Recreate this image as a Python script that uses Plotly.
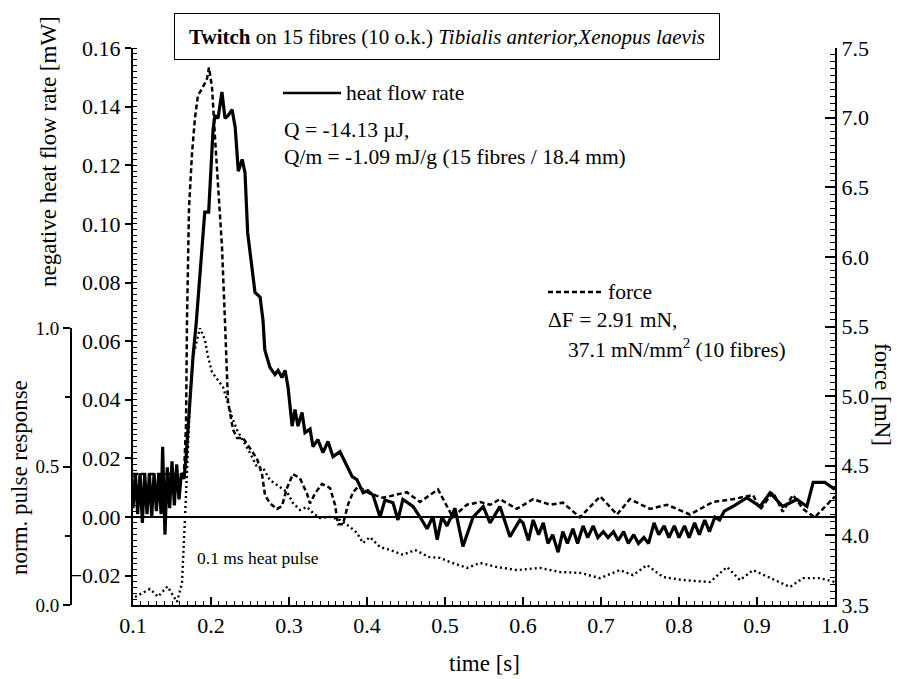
import plotly.graph_objects as go

# ---------------- data ----------------
heat_t = [0.100, 0.103, 0.106, 0.109, 0.112, 0.115, 0.118, 0.121, 0.124, 0.127, 0.130, 0.133, 0.136,
          0.138, 0.141, 0.144, 0.147, 0.150, 0.153, 0.156, 0.159, 0.162, 0.1654,
          0.168, 0.1705, 0.173, 0.177, 0.181, 0.186, 0.190, 0.192, 0.197, 0.200, 0.2026, 0.205, 0.209,
          0.214, 0.218, 0.222, 0.227, 0.231, 0.235, 0.240, 0.2436, 0.247, 0.2526, 0.2564, 0.263, 0.2667,
          0.269, 0.2756, 0.282, 0.286, 0.291, 0.295, 0.2987, 0.304, 0.3077, 0.3115, 0.3167, 0.3205,
          0.327, 0.3308, 0.337, 0.3436, 0.350, 0.3564, 0.3654, 0.3744, 0.381, 0.387, 0.395, 0.401,
          0.4077, 0.4167, 0.423, 0.4333, 0.4397, 0.446, 0.459, 0.468, 0.477, 0.4846, 0.490, 0.496,
          0.5026, 0.5128, 0.523, 0.536, 0.549, 0.5577, 0.5705, 0.5833, 0.596,
          0.600, 0.607, 0.613, 0.620, 0.626, 0.632, 0.638, 0.645, 0.651, 0.657, 0.664, 0.670, 0.677,
          0.683, 0.690, 0.696, 0.703, 0.709, 0.716, 0.722, 0.729, 0.735, 0.742, 0.748, 0.755, 0.761,
          0.768, 0.774, 0.781, 0.787, 0.794, 0.800, 0.807, 0.813, 0.820, 0.826, 0.833, 0.839, 0.846,
          0.852, 0.858, 0.869, 0.887, 0.904, 0.9167, 0.933, 0.951, 0.964, 0.972, 0.987, 1.000]
heat_q = [0.003, 0.015, 0.001, 0.015, -0.002, 0.015, 0.001, 0.015, 0.000, 0.015, 0.002, 0.015, 0.001,
          0.024, -0.006, 0.017, 0.003, 0.019, 0.004, 0.018, 0.006, 0.015, 0.013,
          0.020, 0.030, 0.040, 0.055, 0.066, 0.084, 0.099, 0.104, 0.104, 0.118, 0.132, 0.137, 0.136,
          0.145, 0.136, 0.137, 0.139, 0.133, 0.118, 0.122, 0.1175, 0.097, 0.085, 0.0766, 0.075, 0.067,
          0.057, 0.051, 0.0486, 0.050, 0.0476, 0.050, 0.0445, 0.031, 0.0367, 0.031, 0.0357, 0.0288,
          0.030, 0.024, 0.0264, 0.022, 0.0258, 0.0206, 0.0223, 0.0172, 0.0138, 0.0128, 0.0083, 0.009,
          0.0075, 0.000, 0.0058, 0.0049, -0.001, 0.006, 0.0036, 0.000, -0.004, 0.0002, -0.0077, 0.000,
          -0.003, 0.003, -0.010, 0.000, 0.0036, -0.002, 0.0036, -0.0067, -0.001,
          -0.002, -0.008, -0.001, -0.006, -0.002, -0.009, -0.006, -0.012, -0.005, -0.009, -0.004, -0.009, -0.003,
          -0.007, -0.003, -0.007, -0.005, -0.007, -0.005, -0.008, -0.005, -0.009, -0.006, -0.009, -0.007, -0.009,
          -0.002, -0.006, -0.003, -0.007, -0.003, -0.007, -0.003, -0.007, -0.002, -0.006, -0.001, -0.005, 0.000,
          -0.001, 0.002, 0.0036, 0.0066, 0.0036, 0.0083, 0.0036, 0.006, 0.0036, 0.0118, 0.0118, 0.0094]

force_t = [0.100, 0.1654, 0.168, 0.1692, 0.1718, 0.1756, 0.1795, 0.1833, 0.1897, 0.1949, 0.1974, 0.2013,
           0.2051, 0.2090, 0.2141, 0.2179, 0.2218, 0.2282, 0.2333, 0.2410, 0.2500, 0.2590, 0.2654, 0.2692,
           0.2756, 0.2846, 0.2910, 0.2974, 0.3051, 0.3141, 0.3231, 0.3269, 0.3333, 0.3423, 0.3526, 0.3590,
           0.3628, 0.3692, 0.3756, 0.3821, 0.3885, 0.4038, 0.4205, 0.451, 0.468, 0.491, 0.510, 0.528, 0.545,
           0.558, 0.5705, 0.592, 0.613, 0.635, 0.651, 0.673, 0.699, 0.7205, 0.737, 0.763, 0.7846, 0.814,
           0.8436, 0.869, 0.895, 0.904, 0.9205, 0.933, 0.946, 0.959, 0.974, 0.9936, 1.000]
force_f = [4.44, 4.44, 4.80, 5.54, 6.35, 6.74, 7.00, 7.16, 7.22, 7.28, 7.36, 7.22,
           6.86, 6.50, 6.07, 5.54, 4.96, 4.76, 4.70, 4.70, 4.62, 4.55, 4.44, 4.29,
           4.23, 4.19, 4.21, 4.34, 4.44, 4.41, 4.30, 4.23, 4.30, 4.37, 4.34, 4.22,
           4.08, 4.08, 4.22, 4.31, 4.35, 4.30, 4.27, 4.31, 4.24, 4.33, 4.13, 4.22, 4.24,
           4.22, 4.26, 4.19, 4.26, 4.22, 4.235, 4.13, 4.28, 4.15, 4.26, 4.19, 4.22, 4.15,
           4.24, 4.26, 4.29, 4.185, 4.31, 4.17, 4.29, 4.19, 4.13, 4.24, 4.28]

pulse_t = [0.1026, 0.1218, 0.132, 0.1442, 0.1564, 0.1628, 0.1667, 0.1692, 0.1731, 0.1769, 0.1859, 0.1923,
           0.1962, 0.2013, 0.209, 0.2154, 0.2218, 0.2269, 0.2333, 0.241, 0.250, 0.259, 0.2667, 0.2756,
           0.2846, 0.2974, 0.3051, 0.3141, 0.3231, 0.3308, 0.3397, 0.3526, 0.3654, 0.3782, 0.3872, 0.3949,
           0.4038, 0.4167, 0.4295, 0.4462, 0.4615, 0.4795, 0.4936, 0.5064, 0.5282, 0.5449, 0.5667, 0.5923,
           0.6218, 0.6474, 0.6731, 0.6987, 0.7244, 0.741, 0.759, 0.7795, 0.8051, 0.8397, 0.8615, 0.8782,
           0.8949, 0.9167, 0.9423, 0.959, 0.9808, 1.000]
pulse_r = [0.029, 0.058, 0.030, 0.067, 0.011, 0.079, 0.318, 0.498, 0.740, 0.895, 1.000, 0.957,
           0.895, 0.841, 0.812, 0.787, 0.729, 0.679, 0.632, 0.596, 0.549, 0.498, 0.495, 0.451,
           0.433, 0.408, 0.368, 0.343, 0.354, 0.332, 0.314, 0.318, 0.307, 0.282, 0.260, 0.224,
           0.245, 0.209, 0.199, 0.181, 0.199, 0.173, 0.170, 0.155, 0.134, 0.152, 0.137, 0.126,
           0.134, 0.119, 0.116, 0.097, 0.126, 0.108, 0.144, 0.101, 0.090, 0.083, 0.137, 0.090,
           0.126, 0.097, 0.065, 0.097, 0.097, 0.083]

# ---------------- layout helpers (pixel -> paper) ----------------
W, H = 902, 679
ML, MR, MT, MB = 60, 67, 48, 74
PW = W - ML - MR
PH = H - MT - MB


def px(x):
    return (x - ML) / PW


def py(y):
    return (H - MB - y) / PH


FONT = "Liberation Serif"
TICK = 22
LAB = 21.5
AX = 23

fig = go.Figure()
fig.add_trace(go.Scatter(x=heat_t, y=heat_q, mode="lines", name="heat flow rate",
                         line=dict(color="black", width=3.2), xaxis="x", yaxis="y"))
fig.add_trace(go.Scatter(x=force_t, y=force_f, mode="lines", name="force",
                         line=dict(color="black", width=2.5, dash="5px,3px"), xaxis="x", yaxis="y2"))
fig.add_trace(go.Scatter(x=pulse_t, y=pulse_r, mode="lines", name="pulse",
                         line=dict(color="black", width=2.4, dash="2px,3px"), xaxis="x", yaxis="y3"))

tickfont = dict(family=FONT, size=TICK, color="black")

fig.update_layout(
    width=W, height=H,
    margin=dict(l=ML, r=MR, t=MT, b=MB),
    paper_bgcolor="white", plot_bgcolor="rgba(0,0,0,0)",
    showlegend=False,
    font=dict(family=FONT, size=LAB, color="black"),
    xaxis=dict(domain=[px(133), 1], range=[0.1, 1.0], dtick=0.1, tick0=0.1, tickformat=".1f",
               showline=True, linecolor="black", linewidth=2, showgrid=False, zeroline=False,
               ticks="inside", ticklen=8, tickwidth=1.5, tickcolor="black",
               minor=dict(ticks="inside", dtick=0.01, ticklen=4, tickwidth=1, tickcolor="black"),
               tickfont=tickfont, anchor="y"),
    yaxis=dict(range=[-0.03, 0.16], dtick=0.02, tick0=0, tickformat=".2f",
               showline=True, linecolor="black", linewidth=2, showgrid=False,
               zeroline=True, zerolinecolor="black", zerolinewidth=1.5,
               ticks="outside", ticklen=6, tickwidth=1.5, tickcolor="black",
               minor=dict(ticks="inside", dtick=0.002, ticklen=4, tickwidth=1, tickcolor="black"),
               tickfont=tickfont, anchor="x"),
    yaxis2=dict(range=[3.5, 7.5], dtick=0.5, tick0=3.5, tickformat=".1f", overlaying="y", side="right",
                showline=True, linecolor="black", linewidth=2, showgrid=False, zeroline=False,
                ticks="inside", ticklen=10, tickwidth=1.5, tickcolor="black",
                minor=dict(ticks="inside", dtick=0.05, ticklen=5, tickwidth=1, tickcolor="black"),
                tickfont=tickfont, anchor="x"),
    yaxis3=dict(domain=[0, py(328)], range=[0, 1], tickvals=[0, 0.5, 1.0], ticktext=["0.0", "0.5", "1.0"],
                anchor="free", position=px(71), side="left",
                showline=True, linecolor="black", linewidth=2, showgrid=False, zeroline=False,
                ticks="outside", ticklen=7, tickwidth=1.5, tickcolor="black",
                minor=dict(ticks="outside", tickvals=[0.25, 0.75], ticklen=5, tickwidth=1.5, tickcolor="black"),
                tickfont=dict(family=FONT, size=19, color="black")),
)


def lab(text, x, y, size=LAB, xanchor="left", angle=0):
    return dict(text=text, x=px(x), y=py(y), xref="paper", yref="paper", xanchor=xanchor,
                yanchor="middle", showarrow=False, textangle=angle,
                font=dict(family=FONT, size=size, color="black"))


ann = []
# title box
ann.append(dict(text="<b>Twitch</b> on 15 fibres (10 o.k.) <i>Tibialis anterior,Xenopus laevis</i>",
                x=px(447), y=py(36.5), xref="paper", yref="paper", xanchor="center", yanchor="middle",
                showarrow=False, font=dict(family=FONT, size=21, color="black"),
                bgcolor="white", bordercolor="black", borderwidth=1, width=542, height=43, borderpad=1))
# axis titles
ann.append(lab("negative heat flow rate [mW]", 48, 152, AX, "center", -90))
ann.append(lab("norm. pulse response", 19, 478, AX, "center", -90))
ann.append(lab("force [mN]", 882, 395, AX, "center", 90))
ann.append(lab("time [s]", 484, 663, AX, "center"))
# in-plot labels
ann.append(lab("heat flow rate", 344, 93))
ann.append(lab("Q = -14.13 µJ,", 282, 130))
ann.append(lab("Q/m = -1.09 mJ/g (15 fibres / 18.4 mm)", 282, 157))
ann.append(lab("force", 606, 292))
ann.append(lab("ΔF = 2.91 mN,", 546, 320))
ann.append(lab("37.1 mN/mm<sup>2</sup> (10 fibres)", 566, 348))
ann.append(lab("0.1 ms heat pulse", 195, 558, size=17.5))
fig.update_layout(annotations=ann)

fig.update_layout(shapes=[
    dict(type="line", xref="paper", yref="paper", x0=px(283), x1=px(341), y0=py(93), y1=py(93),
         line=dict(color="black", width=2.5)),
    dict(type="line", xref="paper", yref="paper", x0=px(548), x1=px(604), y0=py(292), y1=py(292),
         line=dict(color="black", width=2.5, dash="5px,3px")),
])

fig.write_html("out.html")
